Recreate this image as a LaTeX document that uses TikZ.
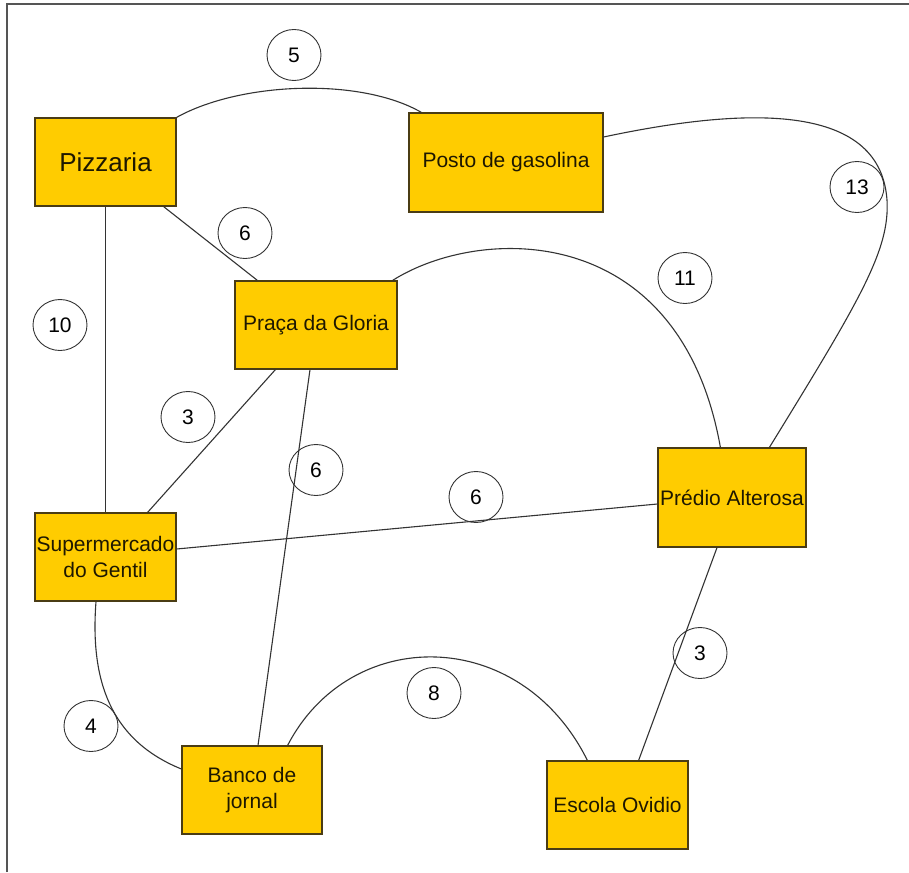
\documentclass[tikz,border=0pt]{standalone}
\usepackage{fontspec}
\setmainfont{Liberation Sans}
\usetikzlibrary{shapes.geometric}
\definecolor{boxfill}{HTML}{FFCC00}
\definecolor{boxline}{HTML}{4A3C14}
\definecolor{edgecol}{HTML}{333333}
\definecolor{framecol}{HTML}{555555}
\definecolor{txtcol}{HTML}{1E1800}
\tikzset{
  place/.style={draw=boxline, line width=1.2pt, fill=boxfill, inner sep=0pt,
    minimum width=141pt, minimum height=88pt, text=txtcol,
    font=\fontsize{21}{26}\selectfont, align=center},
  wt/.style={draw=edgecol, ellipse, line width=0.9pt, minimum width=54pt,
    minimum height=51pt, inner sep=0pt, text=black, font=\fontsize{21}{24}\selectfont},
  road/.style={draw=edgecol, line width=1.1pt},
}
\begin{document}
\begin{tikzpicture}[x=1pt,y=-1pt]
\useasboundingbox (0,0) rectangle (909,872);
\fill[white] (0,0) rectangle (909,872);
\draw[framecol, line width=1.5pt] (7,872) -- (7,4) -- (909,4);

% places
\node[place, font=\fontsize{26}{30}\selectfont] (pizza) at (105.5,162) {Pizzaria};
\node[place, minimum width=194pt, minimum height=99pt] (posto) at (506,162.5) {Posto de gasolina};
\node[place, minimum width=162pt] (praca) at (316,325) {Praça da Gloria};
\node[place] (super) at (105.5,557) {Supermercado\\do Gentil};
\node[place, minimum width=148pt, minimum height=99pt] (predio) at (732,497.5) {Prédio Alterosa};
\node[place, minimum width=140pt] (banco) at (252,790) {Banco de\\jornal};
\node[place] (escola) at (617.5,805) {Escola Ovidio};

% weights
\node[wt] (w5) at (294,55) {5};
\node[wt] (w6a) at (245,233) {6};
\node[wt] (w13) at (857,187) {13};
\node[wt] (w11) at (685,278) {11};
\node[wt] (w10) at (60,325) {10};
\node[wt] (w3a) at (188,417) {3};
\node[wt] (w6b) at (316,470) {6};
\node[wt] (w6c) at (476,497) {6};
\node[wt] (w3b) at (700,653) {3};
\node[wt] (w8) at (434,693) {8};
\node[wt] (w4) at (91,726) {4};

% roads
\draw[road] (pizza.north east) .. controls (240,82) and (360,77) .. ([xshift=13pt]posto.north west);
\draw[road] ([yshift=25.5pt]posto.east) .. controls (740,108) and (880,100) .. (887,200)
   .. controls (890,250) and (860,300) .. ([xshift=112pt]predio.north west);
\draw[road] ([xshift=-13pt]pizza.south east) -- ([xshift=23pt]praca.north west);
\draw[road] (pizza.south) -- (super.north);
\draw[road] ([xshift=-5pt]praca.north east) .. controls (480,225) and (680,220) .. ([xshift=63pt]predio.north west);
\draw[road] ([xshift=41pt]praca.south west) -- ([xshift=-29pt]super.north east);
\draw[road] ([xshift=-6pt]praca.south) -- ([xshift=6pt]banco.north);
\draw[road] ([yshift=8pt]super.east) -- ([yshift=-6.5pt]predio.west);
\draw[road] ([xshift=-9.5pt]super.south) .. controls (90,680) and (110,740) .. ([yshift=21pt]banco.west);
\draw[road] ([xshift=-35pt]banco.north east) .. controls (350,625) and (520,625) .. ([xshift=41pt]escola.north west);
\draw[road] ([xshift=-15pt]predio.south) -- ([xshift=-50pt]escola.north east);
\end{tikzpicture}
\end{document}
